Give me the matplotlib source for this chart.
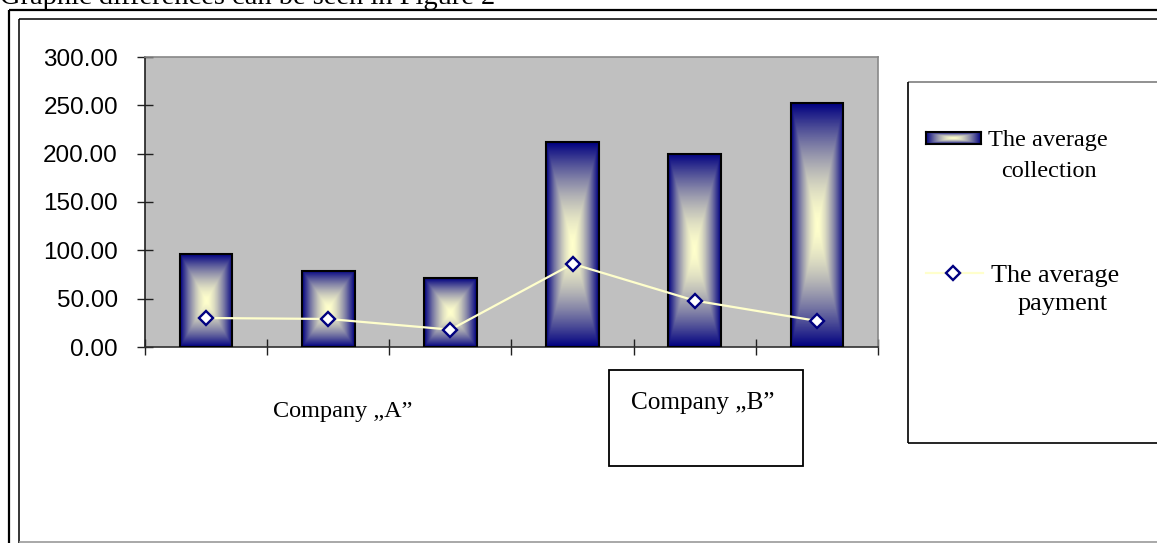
import numpy as np
import matplotlib
matplotlib.use("Agg")
import matplotlib.pyplot as plt
from matplotlib.colors import LinearSegmentedColormap
from matplotlib.lines import Line2D
from matplotlib.patches import Rectangle

# ---- data -------------------------------------------------------------
positions = [0, 1, 2, 3, 4, 5]
collection = [96, 79, 71, 212, 200, 252]      # the average collection
payment = [30, 29, 18, 86, 48, 27]            # the average payment
y_ticks = [0, 50, 100, 150, 200, 250, 300]
group_labels = ["Company \u201eA\u201d", "Company \u201eB\u201d"]
series_labels = [["The average", "collection"], ["The average", "payment"]]
heading = "Graphic differences can be seen in Figure 2"

# ---- figure & helpers ---------------------------------------------------
W, H = 1157, 543
fig = plt.figure(figsize=(W / 100, H / 100), dpi=100)
fig.patch.set_facecolor("white")


def fx(x):
    return x / W


def fy(y):
    return 1 - y / H


SERIF = ["Liberation Serif", "DejaVu Serif"]
SANS = ["Liberation Sans", "DejaVu Sans"]
NAVY = "#000080"
CREAM = "#FFFFCC"

grad_cmap = LinearSegmentedColormap.from_list("bar_fill", [CREAM, NAVY])


def rect_gradient(nx, ny, power=1.6):
    u = np.linspace(-1, 1, nx)
    v = np.linspace(-1, 1, ny)
    U, V = np.meshgrid(u, v)
    return np.maximum(np.abs(U), np.abs(V)) ** power


def frame_line(xs, ys, color="black", lw=1.0):
    fig.add_artist(Line2D([fx(x) for x in xs], [fy(y) for y in ys],
                          transform=fig.transFigure, color=color, lw=lw,
                          solid_capstyle="butt"))


# ---- page frame and heading --------------------------------------------
fig.text(fx(0), fy(4.5), heading, fontsize=20.5, family=SERIF,
         ha="left", va="baseline", color="black")
frame_line([9, 9], [10, 545], lw=1.6)
frame_line([9, 1160], [10, 10], lw=1.6)
frame_line([19, 19], [19, 545], lw=1.1)
frame_line([19, 1160], [19, 19], lw=1.1)
frame_line([19, 1160], [541.5, 541.5], color="#999999", lw=1.2)

# ---- main plot ----------------------------------------------------------
ax = fig.add_axes([fx(145), fy(347), fx(878) - fx(145), (347 - 57) / H])
ax.set_facecolor("#C0C0C0")

bars = ax.bar(positions, collection, width=0.43, fill=False,
              edgecolor="black", linewidth=1.5, zorder=3)
for b in bars:
    x0, w, h = b.get_x(), b.get_width(), b.get_height()
    ax.imshow(rect_gradient(60, 200), cmap=grad_cmap, vmin=0, vmax=1,
              extent=(x0, x0 + w, 0, h), origin="lower", aspect="auto",
              interpolation="bilinear", zorder=2)

ax.plot(positions, payment, color=CREAM, lw=1.6, marker="D", ms=7.5,
        mfc="white", mec=NAVY, mew=1.7, zorder=4)

ax.set_xlim(-0.5, 5.5)
ax.set_ylim(0, 300)
ax.set_yticks(y_ticks)
ax.set_yticklabels([f"{v:.2f}" for v in y_ticks], family=SANS, fontsize=17.5)
ax.set_xticks(np.arange(-0.5, 6, 1))
ax.set_xticklabels([])
ax.tick_params(axis="y", direction="inout", length=11, width=1,
               color="#202020", pad=14)
ax.tick_params(axis="x", direction="inout", length=11, width=1,
               color="#202020")
ax.spines["top"].set_color("#888888")
ax.spines["right"].set_color("#888888")
ax.spines["left"].set_color("#202020")
ax.spines["bottom"].set_color("#303030")
for s in ax.spines.values():
    s.set_linewidth(1.2)

# ---- group labels -------------------------------------------------------
fig.text(fx(273), fy(417), group_labels[0], fontsize=17.5, family=SERIF,
         ha="left", va="baseline")
fig.add_artist(Rectangle((fx(609), fy(466)), fx(803) - fx(609),
                         (466 - 370) / H, transform=fig.transFigure,
                         fill=False, edgecolor="black", lw=1.3))
fig.text(fx(631), fy(409), group_labels[1], fontsize=18.2, family=SERIF,
         ha="left", va="baseline")

# ---- legend -------------------------------------------------------------
frame_line([908, 1160], [82, 82], color="#888888", lw=1.3)
frame_line([908, 908], [82, 443], lw=1.2)
frame_line([908, 1160], [443, 443], lw=1.2)

key_ax = fig.add_axes([fx(926), fy(144), fx(981) - fx(926), 12 / H])
key_ax.imshow(rect_gradient(110, 24), cmap=grad_cmap, vmin=0, vmax=1,
              aspect="auto", interpolation="bilinear")
key_ax.set_xticks([])
key_ax.set_yticks([])
for s in key_ax.spines.values():
    s.set_linewidth(1.5)
    s.set_color("black")

fig.add_artist(Line2D([fx(926), fx(983)], [fy(273), fy(273)],
                      transform=fig.transFigure, color=CREAM, lw=1.6))
fig.add_artist(Line2D([fx(953)], [fy(273)], transform=fig.transFigure,
                      marker="D", ms=7.5, mfc="white", mec=NAVY, mew=1.7,
                      lw=0))

# legend labels, one line at a time
legend_lines = [
    (series_labels[0][0], 1047.5, 146, 17.5),
    (series_labels[0][1], 1048.5, 177, 17.5),
    (series_labels[1][0], 1055.0, 282, 18.8),
    (series_labels[1][1], 1063.0, 310, 18.8),
]
for text, cx, base, size in legend_lines:
    fig.text(fx(cx), fy(base), text, fontsize=size, family=SERIF,
             ha="center", va="baseline")

fig.savefig("out.png", dpi=100)
